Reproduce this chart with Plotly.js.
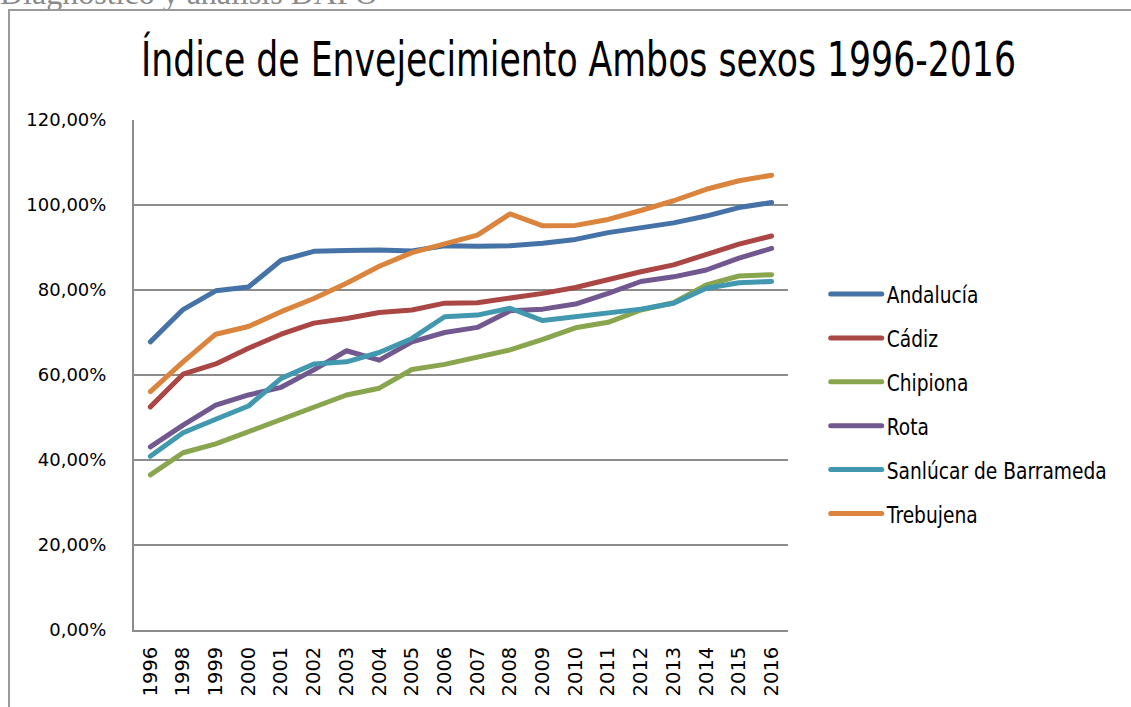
<!DOCTYPE html>
<html>
<head>
<meta charset="utf-8">
<script src="https://cdn.plot.ly/plotly-3.0.1.min.js"></script>
<style>
  html, body { margin: 0; padding: 0; background: #fff; overflow: hidden; }
  #wrap { position: relative; width: 1131px; height: 707px; }
  #chart { position: absolute; left: 0; top: 0; width: 1131px; height: 707px; }
  #frame { position: absolute; left: 8px; top: 9px; width: 1200px; height: 800px;
           border-left: 2px solid #9a9a9a; border-top: 2px solid #9a9a9a; pointer-events: none; }
  #header { position: absolute; left: 0px; top: -23px; font-family: "Liberation Serif", serif;
            font-size: 32px; line-height: 1; color: #8a8a8a; white-space: nowrap; }
  .js-line { stroke-linejoin: round; stroke-linecap: round; }
</style>
</head>
<body>
<div id="wrap">
  <div id="header">Diagnóstico y análisis DAFO</div>
  <div id="chart"></div>
  <div id="frame"></div>
</div>
<script>
const years = ['1996','1998','1999','2000','2001','2002','2003','2004','2005','2006',
               '2007','2008','2009','2010','2011','2012','2013','2014','2015','2016'];
const seriesNames = ['Andalucía','Cádiz','Chipiona','Rota','Sanlúcar de Barrameda','Trebujena'];
const andalucia = [67.8,75.4,79.8,80.7,87.0,89.1,89.3,89.4,89.2,90.4,90.3,90.4,91.0,91.9,93.5,94.7,95.8,97.4,99.4,100.6];
const cadiz     = [52.5,60.2,62.6,66.3,69.6,72.2,73.3,74.7,75.3,76.9,77.0,78.1,79.2,80.6,82.5,84.3,85.9,88.2,90.8,92.7];
const chipiona  = [36.5,41.7,43.8,46.7,49.8,52.7,55.3,56.9,61.3,62.5,64.2,65.9,68.4,71.1,72.4,75.3,77.0,81.2,83.3,83.6];
const rota      = [43.1,48.2,52.9,55.3,57.1,61.2,65.7,63.5,67.8,70.0,71.2,75.1,75.5,76.7,79.2,82.0,83.1,84.7,87.5,89.8];
const sanlucar  = [40.9,46.4,49.6,52.7,59.2,62.6,63.1,65.3,68.6,73.7,74.1,75.7,72.8,73.7,74.5,75.5,76.9,80.4,81.7,82.0];
const trebujena = [56.1,63.1,69.6,71.4,74.9,78.0,81.6,85.6,88.8,91.0,92.9,97.9,95.1,95.2,96.6,98.7,101.0,103.7,105.7,107.0];
const seriesValues = [andalucia, cadiz, chipiona, rota, sanlucar, trebujena];
const colors = ['#4572A7','#AA4643','#89A54E','#71588F','#4198AF','#DB843D'];

const traces = seriesNames.map((name, i) => ({
  type: 'scatter', mode: 'lines', name: name,
  x: years, y: seriesValues[i],
  line: { color: colors[i], width: 5 },
  legendgroup: 'g' + i,
  hoverinfo: 'skip'
}));

const layout = {
  width: 1131, height: 707,
  margin: { l: 134, r: 343, t: 120, b: 77, autoexpand: false },
  paper_bgcolor: 'rgba(0,0,0,0)', plot_bgcolor: '#fff',
  separators: ',.',
  showlegend: true,
  title: {
    text: 'Índice de Envejecimiento Ambos sexos 1996-2016',
    font: { family: '"DejaVu Sans", sans-serif', size: 48, color: '#000' },
    xref: 'container', x: 0.5115, xanchor: 'center',
    yref: 'container', y: 0.916, yanchor: 'middle'
  },
  xaxis: {
    type: 'category', tickangle: -90, automargin: false,
    range: [-0.5, years.length - 0.5],
    showgrid: false, zeroline: false,
    showline: true, linecolor: '#8c8c8c', linewidth: 2,
    ticks: '', ticklabelstandoff: 7,
    tickfont: { family: '"DejaVu Sans", sans-serif', size: 19.5, color: '#000' }
  },
  yaxis: {
    range: [0, 120], dtick: 20, tick0: 0, automargin: false,
    tickformat: '.2f', ticksuffix: '%',
    showgrid: true, gridcolor: '#8c8c8c', gridwidth: 2,
    zeroline: false, showline: true, linecolor: '#8c8c8c', linewidth: 2,
    ticks: '', ticklabelstandoff: 22,
    tickfont: { family: '"DejaVu Sans", sans-serif', size: 18, color: '#000' }
  },
  legend: {
    x: 1.0577, xanchor: 'left', y: 0.443, yanchor: 'middle',
    font: { family: '"DejaVu Sans", sans-serif', size: 23, color: '#000' },
    tracegroupgap: 11, itemwidth: 51,
    bgcolor: 'rgba(0,0,0,0)'
  }
};

function condenseEl(t, factor, target) {
  const w = t.getComputedTextLength();
  if (!w) return;
  const L = target ? target : w * factor;
  t.setAttribute('textLength', L.toFixed(1));
  t.setAttribute('lengthAdjust', 'spacingAndGlyphs');
}
function condense(sel, factor, target) {
  document.querySelectorAll(sel).forEach(t => {
    const spans = t.querySelectorAll('tspan');
    if (spans.length) spans.forEach(s => condenseEl(s, factor, target));
    else condenseEl(t, factor, target);
  });
}
function finish() {
  condense('#chart .gtitle', 1, 875);
  condense('#chart .legendtext', 0.9);
  document.querySelectorAll('#chart .legend [clip-path]').forEach(e => e.removeAttribute('clip-path'));
}

Plotly.newPlot('chart', traces, layout, { displayModeBar: false, staticPlot: true }).then(() => {
  finish();
  setTimeout(finish, 60);
});
</script>
</body>
</html>
